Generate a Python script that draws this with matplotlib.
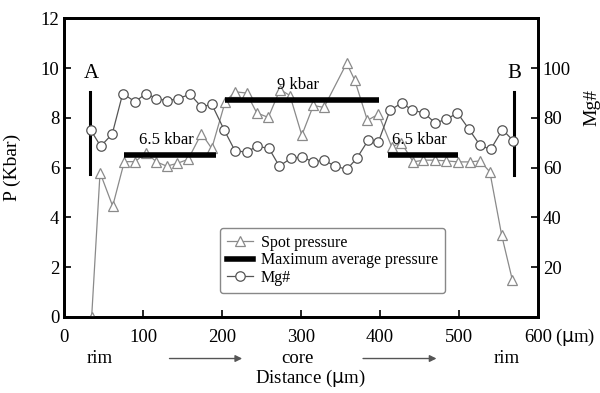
import numpy as np
import matplotlib.pyplot as plt
import matplotlib.transforms as mtransforms
from matplotlib.lines import Line2D

plt.rcParams['font.family'] = ['Liberation Serif', 'DejaVu Serif']

## spot pressure (kbar) along the traverse
dist_p = [35, 45.6, 61.6, 76.3, 90, 103.8, 117, 130, 143, 157,
          174, 187, 204, 216.5, 231, 244, 258.6, 273.4, 286, 301,
          315.6, 329, 357.8, 368, 384, 398, 414.8, 427, 442, 455,
          470, 484, 499, 514, 526.6, 539, 554, 567.5]
pressure = [0, 5.8, 4.45, 6.24, 6.24, 6.6, 6.23, 6.06, 6.17, 6.33,
            7.37, 6.77, 8.65, 9.05, 9.0, 8.2, 8.02, 9.14, 8.9, 7.3,
            8.5, 8.42, 10.2, 9.52, 7.9, 8.15, 6.84, 7.0, 6.23, 6.3,
            6.3, 6.27, 6.23, 6.23, 6.27, 5.83, 3.28, 1.48]

## Mg# along the traverse
dist_mg = [33.8, 46.4, 61, 74.3, 90, 103.8, 117, 130.8, 144.7, 159.5,
           174, 187, 202.5, 216.5, 231, 244.7, 259.5, 272.5, 287, 301,
           315.6, 329, 343, 358, 370.5, 385, 398, 412.7, 427.5, 441,
           455.7, 469.6, 484, 498, 512, 526.6, 540, 555, 568.7]
mg = [75.1, 68.6, 73.5, 89.8, 86.5, 89.8, 87.8, 86.9, 87.8, 89.5,
      84.4, 85.5, 75.3, 66.7, 66.3, 68.6, 67.7, 60.6, 63.7, 64.3,
      62.3, 63, 60.6, 59.3, 63.7, 71, 70.4, 83.1, 86, 83.1,
      82, 78, 79.4, 82, 75.7, 69, 67.3, 75.3, 70.8]

## maximum average pressure segments
avg_start = [76, 204, 410]
avg_end = [192, 399, 499]
avg_p = [6.5, 8.7, 6.5]
avg_labels = ['6.5 kbar', '9 kbar', '6.5 kbar']

## rim markers A / B
rim_x = [33, 569]
rim_lo = [5.75, 5.7]
rim_hi = [9.05, 9.05]
rim_labels = ['A', 'B']

fig = plt.figure(figsize=(6, 3.93), dpi=100)
ax1 = fig.add_axes([0.1067, 0.194, 0.79, 0.759])
ax2 = ax1.twinx()

ph, = ax1.plot(dist_p, pressure, color='#8a8a8a', lw=0.9, marker='^', ms=7,
               mfc='white', mec='#8a8a8a', mew=0.9, zorder=3)
for x0, x1, p in zip(avg_start, avg_end, avg_p):
    ax1.plot([x0, x1], [p, p], color='black', lw=4, solid_capstyle='butt', zorder=4)
for x0, x1, p, lab in zip(avg_start, avg_end, avg_p, avg_labels):
    ax1.text((x0 + x1) / 2. - 5, p + 0.3, lab, ha='center', va='bottom', fontsize=12)
for x, lo, hi, lab in zip(rim_x, rim_lo, rim_hi, rim_labels):
    ax1.plot([x, x], [lo, hi], color='black', lw=2.2, zorder=5)
    ax1.text(x + 1, hi + 0.35, lab, ha='center', va='bottom', fontsize=15)

mh, = ax2.plot(dist_mg, mg, color='#555555', lw=0.9, marker='o', ms=6.8,
               mfc='white', mec='#555555', mew=0.9, zorder=3)

ax1.set_xlim([0, 600])
ax1.set_ylim([0, 12])
ax2.set_ylim([0, 120])
ax1.set_xticks(range(0, 700, 100))
ax1.set_yticks(range(0, 14, 2))
ax2.set_yticks([20, 40, 60, 80, 100])
for a in (ax1, ax2):
    a.tick_params(direction='in', length=5, width=1.2, labelsize=13.5)
    for s in a.spines.values():
        s.set_linewidth(2)
ax1.tick_params(axis='x', pad=9)

ax1.set_ylabel('P (Kbar)', fontsize=14)
ax1.yaxis.set_label_coords(-0.09, 0.5)
ax2.set_ylabel('Mg#', fontsize=14)
ax2.yaxis.set_label_coords(1.095, 0.7)

trans = mtransforms.blended_transform_factory(ax1.transData, ax1.transAxes)
ax1.text(1.036, -0.07, r'($\mathrm{\mu}$m)', transform=ax1.transAxes, ha='left', va='center', fontsize=13.5)
ax1.text(45, -0.14, 'rim', transform=trans, ha='center', va='center', fontsize=13.5)
ax1.text(295, -0.14, 'core', transform=trans, ha='center', va='center', fontsize=13.5)
ax1.text(560, -0.14, 'rim', transform=trans, ha='center', va='center', fontsize=13.5)
for x0, x1 in [(130, 229), (375, 475)]:
    ax1.annotate('', xy=(x1, -0.14), xytext=(x0, -0.14), xycoords=trans, textcoords=trans,
                 arrowprops=dict(arrowstyle='-|>', color='#555555', lw=1, mutation_scale=10))
ax1.text(312, -0.207, r'Distance ($\mathrm{\mu}$m)', transform=trans, ha='center', va='center', fontsize=13.5)

## proxy handle for the average pressure bars
bar_line = Line2D([], [], color='black', lw=4)
leg = ax1.legend([ph, bar_line, mh], ['Spot pressure', 'Maximum average pressure', 'Mg#'],
                 loc='lower left', bbox_to_anchor=(0.329, 0.079), borderaxespad=0,
                 fontsize=11.5, handlelength=1.6, handletextpad=0.5, labelspacing=0.1,
                 fancybox=True, framealpha=1, edgecolor='#888888', borderpad=0.45)
leg.get_frame().set_linewidth(1)
leg.set_zorder(10)

plt.savefig('out.png', dpi=100)
plt.close()
